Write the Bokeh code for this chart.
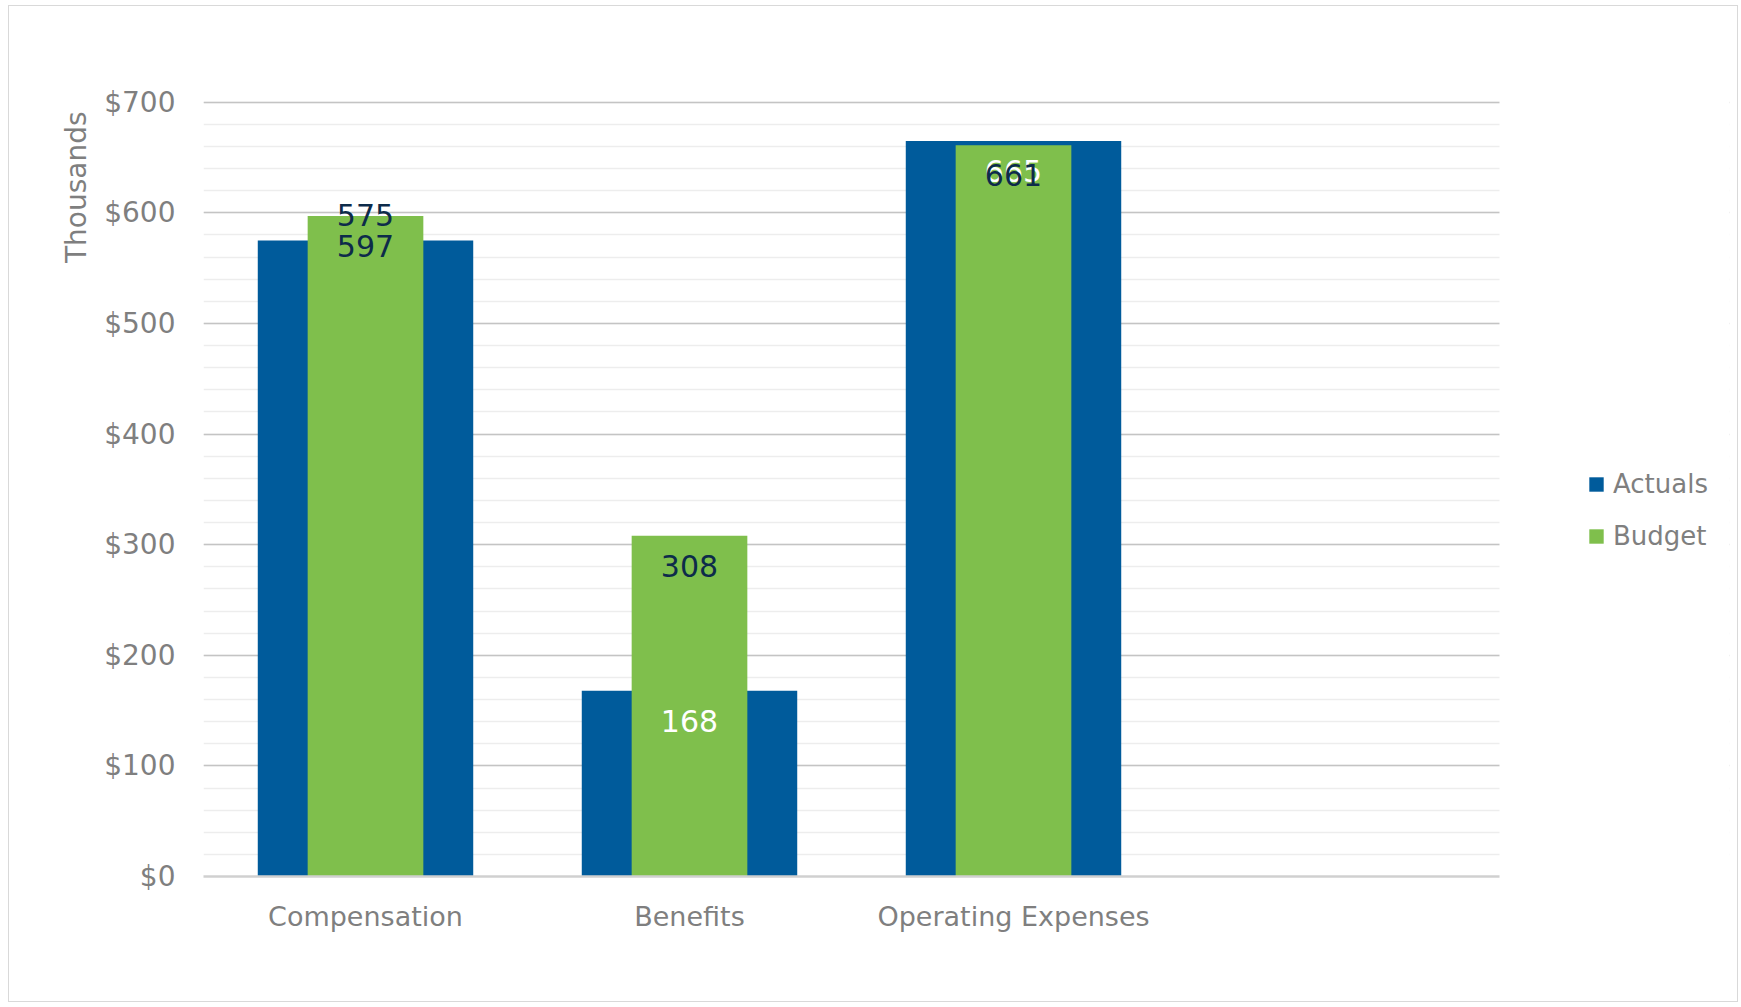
from bokeh.plotting import figure
from bokeh.models import (ColumnDataSource, Range1d, FixedTicker, SingleIntervalTicker,
                          NumeralTickFormatter, Legend, LegendItem, Title, BoxAnnotation)
from bokeh.core.properties import value
from bokeh.embed import file_html
from bokeh.resources import INLINE

# ---- data ----
categories = ["Compensation", "Benefits", "Operating Expenses"]
actuals = [575, 168, 665]
budget = [597, 308, 661]
y_ticks = [0, 100, 200, 300, 400, 500, 600, 700]
n_slots = 4  # the chart keeps one empty category slot on the right

# ---- style ----
FONT = "DejaVu Sans"
BLUE = "#005B9B"
GREEN = "#7FBF4C"
NAVY = "#0D2B4A"
GREY = "#7F7F7F"
actual_label_colors = [NAVY, "white", "white"]
actual_label_offsets = [-25, 30, 30]   # px; negative = above the bar top
budget_label_offset = 30

W, H = 1730, 997
BL, BR, BT, BB = 194, 10, 94, 127
SLOT_PX = 324                      # width of one category slot in pixels
frame_w = W - BL - BR
x_end = frame_w / SLOT_PX          # frame extends past the plot area to hold the legend

xs = [i + 0.5 for i in range(len(categories))]
src = ColumnDataSource(dict(x=xs, cat=categories, actual=actuals, budget=budget,
                            a_txt=[str(v) for v in actuals], b_txt=[str(v) for v in budget],
                            a_col=actual_label_colors, a_off=actual_label_offsets))

p = figure(width=W, height=H, output_backend="svg", toolbar_location=None,
           x_range=Range1d(0, x_end), y_range=Range1d(y_ticks[0], y_ticks[-1] + 1.5),
           min_border_left=BL, min_border_right=BR, min_border_top=BT, min_border_bottom=BB)
p.styles = {"border": "1.5px solid #d9d9d9", "box-sizing": "border-box",
            "margin-left": "8px", "margin-top": "5px"}
p.outline_line_color = None
p.background_fill_color = "white"
p.border_fill_color = "white"

ra = p.vbar(x="x", top="actual", bottom=0, width=0.665, source=src,
            fill_color=BLUE, line_color=None)
rb = p.vbar(x="x", top="budget", bottom=0, width=0.357, source=src,
            fill_color=GREEN, line_color=None)

p.text(x="x", y="actual", text="a_txt", source=src, text_color="a_col",
       y_offset="a_off", text_align="center", text_baseline="middle",
       text_font=value(FONT), text_font_size="30px")
p.text(x="x", y="budget", text="b_txt", source=src, text_color=NAVY,
       y_offset=budget_label_offset, text_align="center", text_baseline="middle",
       text_font=value(FONT), text_font_size="30px")

# blank out the gridlines beyond the plot area (legend zone)
p.add_layout(BoxAnnotation(left=n_slots, fill_color="white", fill_alpha=1.0,
                           line_color=None, level="underlay"))

# axes
p.xaxis.ticker = FixedTicker(ticks=xs)
p.xaxis.bounds = (0, n_slots)
p.xaxis.major_label_overrides = {x: c for x, c in zip(xs, categories)}
p.xaxis.major_tick_line_color = None
p.xaxis.minor_tick_line_color = None
p.xaxis.axis_line_color = "#D0D0D0"
p.xaxis.axis_line_width = 2.5
p.xaxis.major_label_standoff = 18
p.xaxis.major_label_text_font = FONT
p.xaxis.major_label_text_font_size = "27px"
p.xaxis.major_label_text_color = GREY

p.yaxis.ticker = SingleIntervalTicker(interval=100, num_minor_ticks=5)
p.yaxis.formatter = NumeralTickFormatter(format="$0")
p.yaxis.axis_line_color = None
p.yaxis.major_tick_line_color = None
p.yaxis.minor_tick_line_color = None
p.yaxis.major_label_standoff = 22
p.yaxis.major_label_text_font = FONT
p.yaxis.major_label_text_font_size = "28px"
p.yaxis.major_label_text_color = GREY

p.xgrid.grid_line_color = None
p.ygrid.grid_line_color = "#C4C4C4"
p.ygrid.grid_line_width = 1.5
p.ygrid.minor_grid_line_color = "#EDEDED"
p.ygrid.minor_grid_line_width = 1.5

t = Title(text="Thousands", align="right", text_font=FONT, text_font_size="28px",
          text_color=GREY, text_font_style="normal", offset=11, standoff=17)
p.add_layout(t, "left")

legend = Legend(items=[LegendItem(label="Actuals", renderers=[ra]),
                       LegendItem(label="Budget", renderers=[rb])],
                location=(n_slots * SLOT_PX + 88, 325), orientation="vertical",
                glyph_width=18, glyph_height=18, label_standoff=8,
                label_height=26, spacing=22, padding=0, margin=0,
                label_text_font=FONT, label_text_font_size="26px",
                label_text_color=GREY, border_line_color=None,
                background_fill_alpha=0)
p.add_layout(legend, "center")

open("out.html", "w").write(file_html(p, INLINE))
